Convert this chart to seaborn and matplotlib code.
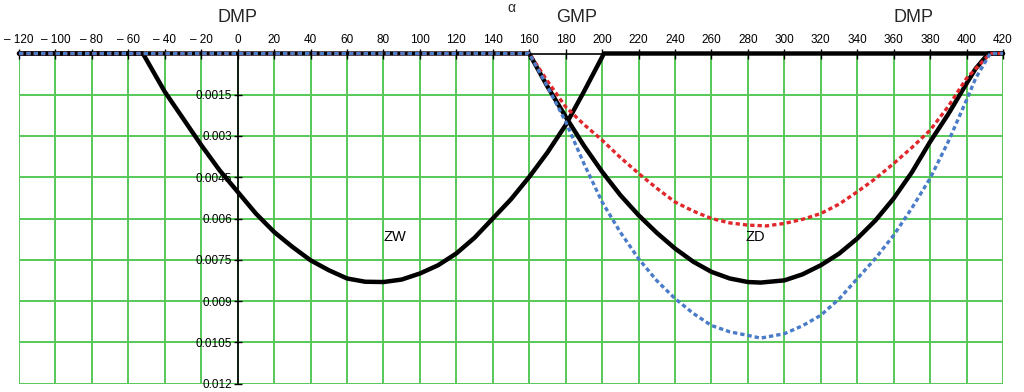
import matplotlib
matplotlib.use("Agg")
import matplotlib.pyplot as plt
import matplotlib.transforms as mtransforms
import seaborn as sns
import pandas as pd

# ---- data ----
x_ticks = list(range(-120, 421, 20))
x_tick_labels = [("– %d" % abs(v)) if v < 0 else str(v) for v in x_ticks]
y_ticks = [0.0015, 0.003, 0.0045, 0.006, 0.0075, 0.009, 0.0105, 0.012]
y_tick_labels = ["0.0015", "0.003", "0.0045", "0.006", "0.0075", "0.009", "0.0105", "0.012"]

# ZW (exhaust valve) - black
zw_x = [-120, -52, -40, -30, -20, -10, 0, 10, 20, 30, 40, 50, 60, 70, 80, 90,
        100, 110, 120, 130, 140, 150, 160, 170, 180, 190, 201, 420]
zw_y = [0, 0, 0.00139, 0.00236, 0.00333, 0.00424, 0.00503, 0.00582, 0.00649, 0.00703,
        0.00752, 0.00788, 0.00818, 0.00830, 0.00831, 0.00822, 0.00800, 0.00770,
        0.00727, 0.00670, 0.00600, 0.00530, 0.00449, 0.00360, 0.00260, 0.00139, 0, 0]

# ZD (intake valve) - black
zd_x = [-120, 160, 170, 180, 190, 200, 210, 220, 230, 240, 250, 260, 270, 280, 287,
        300, 310, 320, 330, 340, 350, 360, 370, 380, 390, 400, 405, 412, 420]
zd_y = [0, 0, 0.00120, 0.00230, 0.00335, 0.00430, 0.00515, 0.00588, 0.00652, 0.00709,
        0.00757, 0.00794, 0.00818, 0.00831, 0.00833, 0.00825, 0.00803, 0.00770,
        0.00728, 0.00673, 0.00607, 0.00527, 0.00432, 0.00321, 0.00220, 0.00109,
        0.00055, 0, 0]

# red dashed
red_x = [-120, 160, 170, 180, 190, 200, 210, 220, 230, 240, 250, 260, 270, 280, 290,
         300, 310, 320, 330, 340, 350, 360, 370, 380, 390, 400, 413, 420]
red_y = [0, 0, 0.00100, 0.00194, 0.00258, 0.00315, 0.00378, 0.00436, 0.00490, 0.00540,
         0.00573, 0.00600, 0.00616, 0.00624, 0.00627, 0.00618, 0.00603, 0.00582,
         0.00548, 0.00503, 0.00455, 0.00400, 0.00342, 0.00279, 0.00192, 0.00090, 0, 0]

# blue dashed
blue_x = [-120, 160, 170, 180, 190, 200, 210, 220, 230, 240, 250, 260, 270, 280, 287,
          300, 310, 320, 330, 340, 350, 360, 370, 380, 390, 400, 405, 413, 420]
blue_y = [0, 0, 0.00120, 0.00248, 0.00400, 0.00540, 0.00650, 0.00746, 0.00826, 0.00891,
          0.00945, 0.00989, 0.01012, 0.01025, 0.01035, 0.01019, 0.00990, 0.00952,
          0.00893, 0.00819, 0.00745, 0.00661, 0.00562, 0.00454, 0.00320, 0.00169,
          0.00090, 0, 0]

top_labels = ["DMP", "GMP", "DMP"]
top_label_x = [0, 186, 371]

# ---- plotting ----
sns.set_theme(style="white")
plt.rcParams["font.family"] = ["Liberation Sans", "DejaVu Sans"]

fig = plt.figure(figsize=(10.24, 3.92), dpi=100)
ax = fig.add_axes([19 / 1024, 1 - 383.5 / 392, (1003 - 19) / 1024, (383.5 - 53.5) / 392])

green = "#58C858"
ax.set_xlim(-120, 420)
ax.set_ylim(0.012, 0)
ax.set_xticks(x_ticks)
ax.set_xticklabels(x_tick_labels)
ax.set_yticks(y_ticks)
ax.set_yticklabels(y_tick_labels)
ax.grid(True, color=green, linewidth=1.4)
ax.set_axisbelow(True)

df_zw = pd.DataFrame({"x": zw_x, "y": zw_y})
df_zd = pd.DataFrame({"x": zd_x, "y": zd_y})
df_red = pd.DataFrame({"x": red_x, "y": red_y})
df_blue = pd.DataFrame({"x": blue_x, "y": blue_y})

sns.lineplot(data=df_zw, x="x", y="y", color="black", linewidth=3.2, ax=ax, clip_on=False, zorder=3)
sns.lineplot(data=df_zd, x="x", y="y", color="black", linewidth=3.2, ax=ax, clip_on=False, zorder=3)
sns.lineplot(data=df_red, x="x", y="y", color="#E0282C", linewidth=2.4, ax=ax,
             linestyle=(0, (1.3, 0.9)), clip_on=False, zorder=4)
sns.lineplot(data=df_blue, x="x", y="y", color="#4A7CC8", linewidth=2.4, ax=ax,
             linestyle=(0, (1.3, 0.9)), clip_on=False, zorder=5)

ax.set_xlabel("")
ax.set_ylabel("")

# axes styling
ax.xaxis.tick_top()
ax.spines["right"].set_visible(False)
ax.spines["bottom"].set_visible(False)
ax.spines["top"].set_color("black")
ax.spines["top"].set_linewidth(1.2)
ax.spines["left"].set_position(("data", 0))
ax.spines["left"].set_color("black")
ax.spines["left"].set_linewidth(1.2)
ax.tick_params(axis="x", which="both", top=True, bottom=False, direction="inout",
               length=7, width=1, colors="black", labelsize=8.5, pad=2)
ax.tick_params(axis="y", which="both", left=True, direction="inout",
               length=6, width=1, colors="black", labelsize=8.5, pad=1)

# curve labels
ax.text(86, 0.00668, "ZW", fontsize=10.5, ha="center", va="center", color="black")
ax.text(284, 0.00668, "ZD", fontsize=10.5, ha="center", va="center", color="black")

# top labels
trans = mtransforms.blended_transform_factory(ax.transData, fig.transFigure)
for lab, xv in zip(top_labels, top_label_x):
    ax.text(xv, 1 - 17 / 392, lab, transform=trans, fontsize=13, ha="center", va="center")
ax.text(150, 1 - 8 / 392, "α", transform=trans, fontsize=10, ha="center", va="center")

fig.savefig("out.png", dpi=100, facecolor="white")
